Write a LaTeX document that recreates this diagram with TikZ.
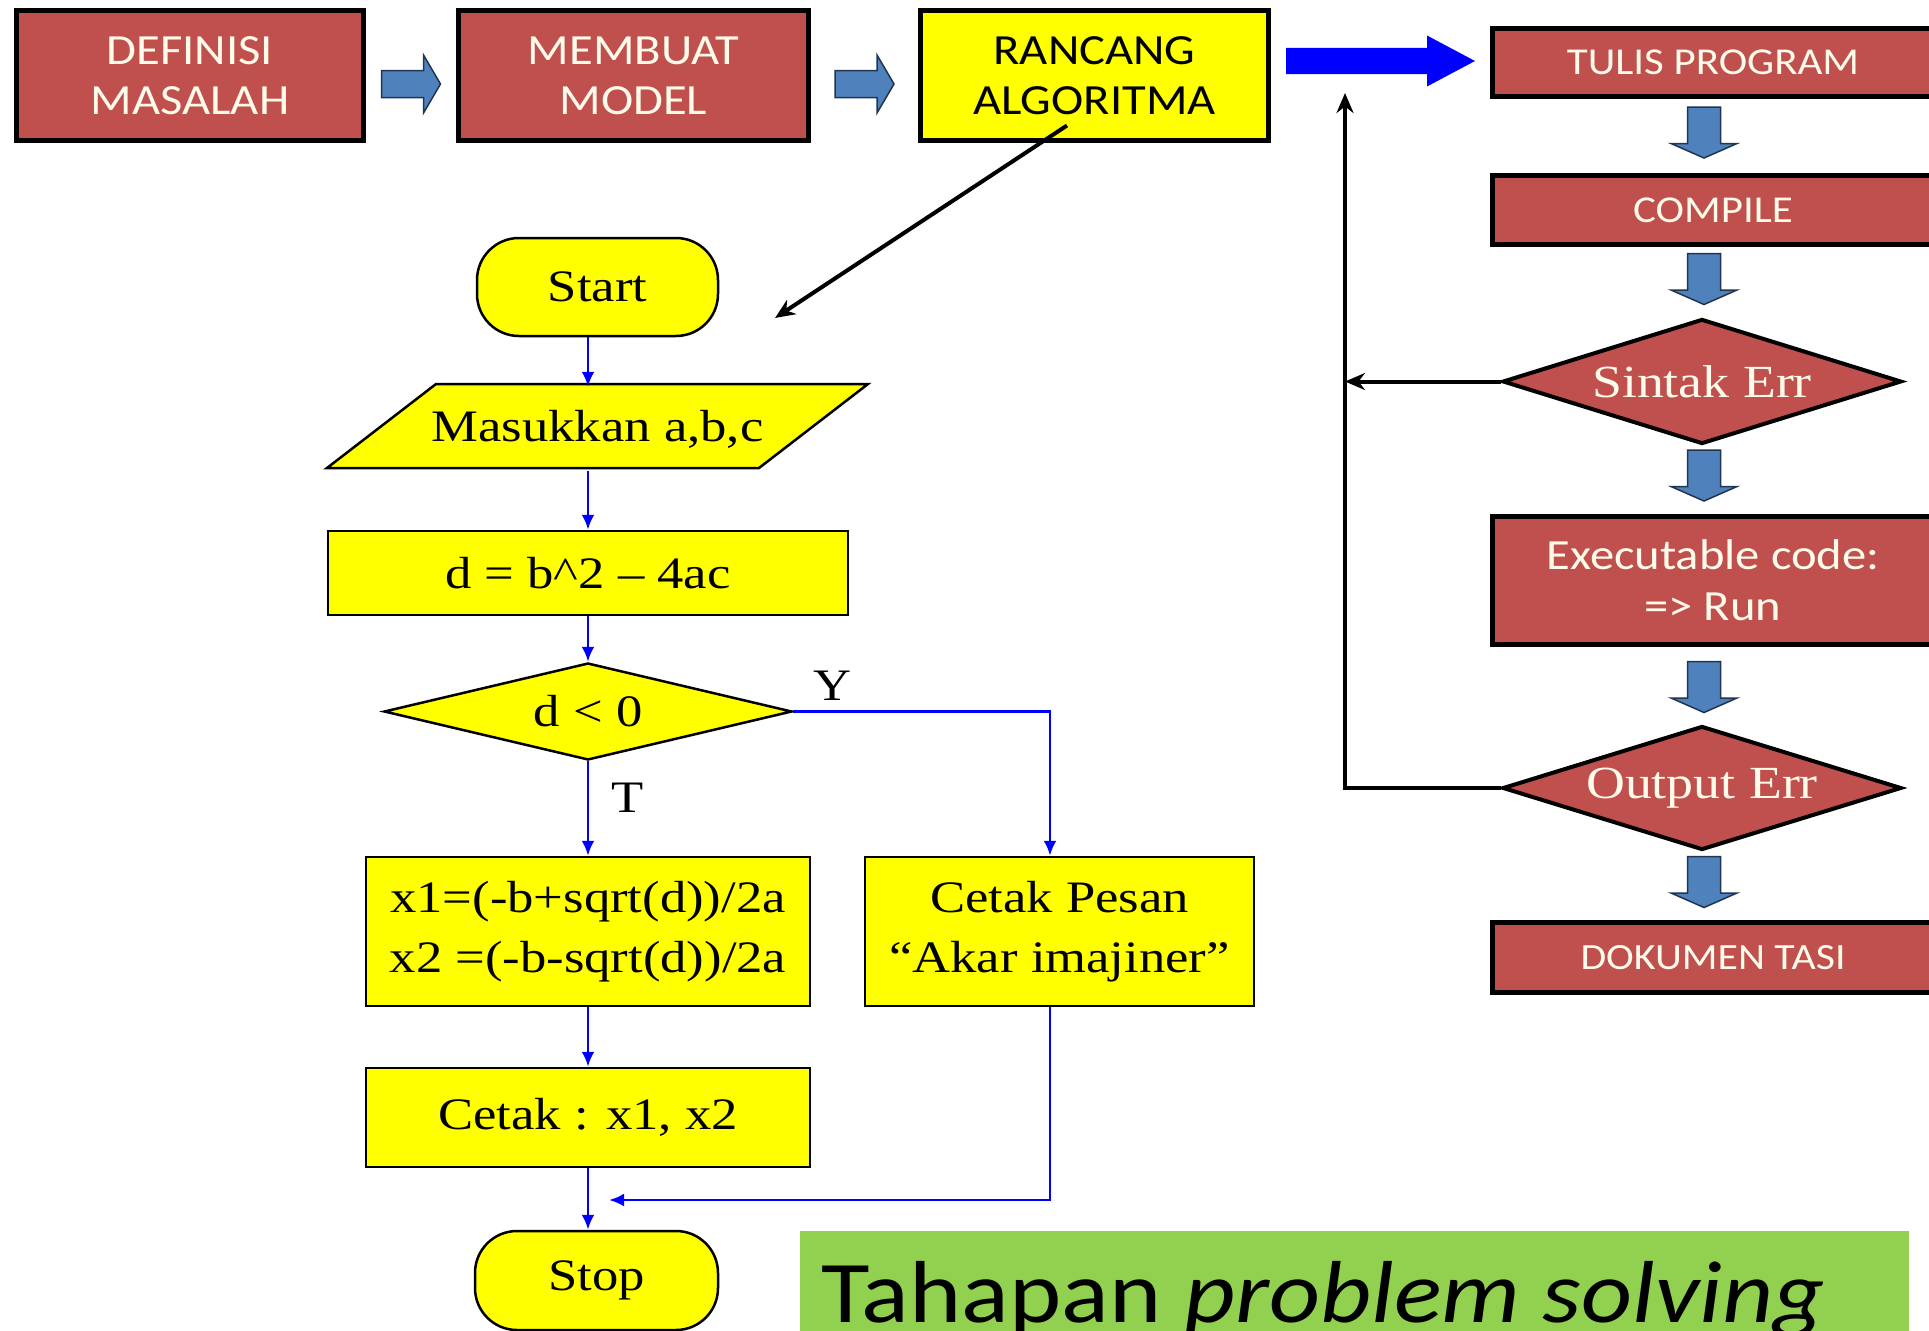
\documentclass[tikz,border=0pt]{standalone}
\usepackage{fontspec}
\usetikzlibrary{arrows.meta,calc,backgrounds,shapes.geometric}
\newfontfamily\boxsans[FakeStretch=1.13]{Carlito}
\newfontfamily\flowserif[FakeStretch=1.17]{Liberation Serif}
\definecolor{brick}{HTML}{C0504D}
\definecolor{cream}{HTML}{FFFBEA}
\definecolor{blockblue}{HTML}{4F81BD}
\definecolor{blockedge}{HTML}{1F3550}
\definecolor{flowyellow}{HTML}{FFFF00}
\definecolor{flowblue}{HTML}{0000FF}
\definecolor{leaf}{HTML}{92D050}
\begin{document}
\begin{tikzpicture}[x=1pt,y=-1pt,
  stagebox/.style={draw=black, line width=5pt, fill=brick, text=cream, align=center,
    inner sep=0pt, font=\boxsans\fontsize{43}{50}\selectfont},
  stepred/.style={draw=black, line width=5pt, fill=brick, text=cream, align=center,
    inner sep=0pt, font=\boxsans\fontsize{38}{46}\selectfont},
  errdiamond/.style={diamond, aspect=3.2, draw=black, line width=4pt, fill=brick, text=cream,
    inner sep=0pt, font=\flowserif\fontsize{46}{50}\selectfont},
  flowbox/.style={draw=black, line width=2.5pt, fill=flowyellow, align=center,
    inner sep=0pt, font=\flowserif\fontsize{45}{60}\selectfont},
  flowtext/.style={inner sep=0pt, align=center, font=\flowserif\fontsize{45}{60}\selectfont},
  flow/.style={draw=flowblue, line width=2.8pt, -{Latex[length=15pt,width=13pt]}},
  loopline/.style={draw=black, line width=4pt},
  looparrow/.style={loopline, -{Stealth[length=20pt,width=17pt]}},
  rarr/.pic={\filldraw[fill=blockblue, draw=blockedge, line width=1.5pt]
    (-29.5,-13.5) -- (12.5,-13.5) -- (12.5,-29) -- (29.5,0) -- (12.5,29) -- (12.5,13.5)
    -- (-29.5,13.5) -- cycle;},
  darr/.pic={\filldraw[fill=blockblue, draw=blockedge, line width=1.5pt]
    (-16.5,-25.5) -- (16.5,-25.5) -- (16.5,11) -- (33,11) -- (0,25.5) -- (-33,11)
    -- (-16.5,11) -- cycle;},
  bigarr/.pic={\fill[flowblue]
    (-94.5,-13) -- (46.5,-13) -- (46.5,-25.5) -- (94.5,0) -- (46.5,25.5) -- (46.5,13)
    -- (-94.5,13) -- cycle;}
]
\useasboundingbox (0,0) rectangle (1929,1330);
\clip (0,0) rectangle (1929,1330);

% ---- top row: problem solving stages
\node[stagebox, minimum width=347pt, minimum height=130pt] (def) at (190,75.5) {DEFINISI\\MASALAH};
\node[stagebox, minimum width=350pt, minimum height=130pt] (mod) at (633.5,75.5) {MEMBUAT\\MODEL};
\node[stagebox, fill=flowyellow, text=black, minimum width=348pt, minimum height=130pt] (ran) at (1094.5,75.5) {RANCANG\\ALGORITMA};

\pic[yshift=-8.5pt] at ($(def.east)!0.5!(mod.west)$) {rarr};
\pic[yshift=-8.5pt] at ($(mod.east)!0.5!(ran.west)$) {rarr};

% ---- right column: implementation steps
\node[stepred, minimum width=441pt, minimum height=68pt] (tulis) at (1713,62.5) {TULIS PROGRAM};
\node[stepred, minimum width=441pt, minimum height=69pt] (compile) at (1713,210) {COMPILE};
\node[errdiamond, minimum width=399pt, minimum height=125pt] (sintak) at (1702,381.5) {Sintak Err};
\node[stepred, font=\boxsans\fontsize{43}{51}\selectfont, minimum width=441pt, minimum height=128pt] (exec) at (1713,580.5) {Executable code:\\=> Run};
\node[errdiamond, minimum width=399pt, minimum height=124pt] (outerr) at (1702,788) {Output Err};
\node[stepred, font=\boxsans\fontsize{37}{44}\selectfont, minimum width=441pt, minimum height=70pt] (dok) at (1713,957.5) {DOKUMEN TASI};

\pic[yshift=8pt] at ($(ran.east)!0.5!(tulis.west)$) {bigarr};
% block arrows between the steps
\pic at (1704,132.5) {darr};
\pic at (1704,279) {darr};
\pic at (1704,475.5) {darr};
\pic at (1704,687) {darr};
\pic at (1704,882) {darr};

% feedback loop back to the coding step
\coordinate (loopx) at (1345,93);
\draw[looparrow] (outerr.west) -| (loopx);
\draw[looparrow] (sintak.west) -- (sintak.west -| loopx);

% ---- flowchart of the quadratic-root algorithm
\coordinate (col) at (588,0);
\coordinate (algtip) at (775,318);
\draw[looparrow] ($(ran.center)+(-27.5,50)$) -- (algtip);

\node[flowbox, rounded corners=42pt, minimum width=241pt, minimum height=98pt] (start) at (597.5,287) {Start};

\begin{scope}[on background layer]
  \fill[white] (0,0) rectangle (1929,1330);
  \filldraw[draw=black, line width=2.5pt, fill=flowyellow]
    (436,384) -- (868,384) -- (759,468) -- (327,468) -- cycle;
\end{scope}
\node[flowtext, minimum width=541pt, minimum height=84pt] (par) at (597.5,429) {Masukkan a,b,c};

\node[flowbox, minimum width=520pt, minimum height=84pt] (calc) at (588,573) {d = b\textasciicircum 2 – 4ac};
\node[flowbox, diamond, aspect=4.2, minimum width=408pt, minimum height=97pt] (dec) at (588,711.5) {d < 0};
\node[flowbox, minimum width=444pt, minimum height=149pt] (roots) at (588,931.5) {x1=(-b+sqrt(d))/2a\\x2 =(-b-sqrt(d))/2a};
\node[flowbox, minimum width=389pt, minimum height=149pt] (msg) at (1059.5,931.5) {Cetak Pesan\\“Akar imajiner”};
\node[flowbox, minimum width=444pt, minimum height=99pt] (prt) at (588,1117.5) {Cetak : x1, x2};
\node[flowbox, rounded corners=42pt, minimum width=243pt, minimum height=99pt] (stop) at (596.5,1280.5) {Stop};

\node[flowtext] (ylab) at (832,686) {Y};
\node[flowtext] (tlab) at (627.5,798) {T};

\draw[flow] (start.south -| col) -- (par.north -| col);
\draw[flow] (par.south -| col) -- (calc.north);
\draw[flow] (calc.south) -- (dec.north);
\draw[flow] (dec.south) -- (roots.north);
\draw[flow] (dec.east) -| ([xshift=-9.5pt]msg.north);
\draw[flow] (roots.south) -- (prt.north);
\draw[flow] (prt.south) -- (stop.north -| col);
\coordinate (merge) at (609,1200);
\draw[flow] ([xshift=-9.5pt]msg.south) |- (merge);

% ---- caption band
\node[fill=leaf, inner sep=0pt, anchor=north west, minimum width=1109pt, minimum height=130pt] (band) at (800,1231) {};
\node[anchor=base west, inner sep=0pt, font=\boxsans\fontsize{88}{90}\selectfont] (title) at (821,1322) {Tahapan \textit{problem solving}};
\end{tikzpicture}
\end{document}
